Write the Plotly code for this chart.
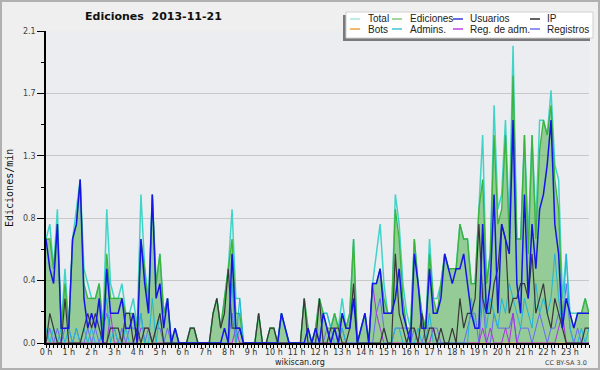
import plotly.graph_objects as go

# ---------------- data (edits per minute, 10-minute bins, 2013-11-21) ----------------
total = [
    0.7, 0.8, 0.5, 0.9, 0.1, 0.5,  0.1, 0.7, 0.9, 1.1, 0.5, 0.4,
    0.3, 0.3, 0.4, 0.1, 0.9, 0.4,  0.3, 0.3, 0.4, 0.2, 0.2, 0.3,
    0.1, 1.0, 0.5, 0.3, 1.0, 0.4,  0.6, 0.2, 0.3, 0.0, 0.1, 0.0,
    0.0, 0.0, 0.1, 0.1, 0.0, 0.0,  0.0, 0.0, 0.2, 0.3, 0.1, 0.3,
    0.5, 0.9, 0.3, 0.3, 0.0, 0.0,  0.0, 0.0, 0.2, 0.0, 0.0, 0.1,
    0.1, 0.0, 0.2, 0.1, 0.0, 0.0,  0.0, 0.0, 0.3, 0.1, 0.0, 0.1,
    0.3, 0.2, 0.2, 0.1, 0.2, 0.1,  0.3, 0.1, 0.2, 0.7, 0.0, 0.1,
    0.2, 0.0, 0.4, 0.6, 0.8, 0.4,  0.2, 0.2, 1.0, 0.8, 0.4, 0.2,
    0.1, 0.7, 0.4, 0.2, 0.1, 0.7,  0.3, 0.3, 0.4, 0.6, 0.5, 0.5,
    0.5, 0.8, 0.7, 0.7, 0.4, 0.4,  0.9, 1.4, 0.4, 0.6, 1.6, 0.9,
    1.0, 1.5, 0.8, 2.0, 0.7, 0.7,  1.4, 0.7, 1.4, 0.8, 1.5, 1.5,
    1.4, 1.7, 1.2, 1.1, 0.3, 0.6,  0.2, 0.2, 0.2, 0.2, 0.3, 0.2,
]
ediciones = [
    0.7, 0.7, 0.5, 0.8, 0.1, 0.4,  0.1, 0.7, 0.8, 1.1, 0.4, 0.3,
    0.3, 0.3, 0.4, 0.1, 0.6, 0.3,  0.3, 0.3, 0.3, 0.2, 0.2, 0.2,
    0.1, 0.7, 0.5, 0.2, 1.0, 0.4,  0.6, 0.2, 0.3, 0.0, 0.1, 0.0,
    0.0, 0.0, 0.1, 0.1, 0.0, 0.0,  0.0, 0.0, 0.2, 0.3, 0.1, 0.3,
    0.5, 0.7, 0.2, 0.2, 0.0, 0.0,  0.0, 0.0, 0.2, 0.0, 0.0, 0.1,
    0.1, 0.0, 0.2, 0.1, 0.0, 0.0,  0.0, 0.0, 0.3, 0.1, 0.0, 0.1,
    0.3, 0.2, 0.1, 0.1, 0.2, 0.1,  0.2, 0.1, 0.2, 0.7, 0.0, 0.1,
    0.2, 0.0, 0.4, 0.4, 0.5, 0.3,  0.2, 0.2, 0.9, 0.7, 0.3, 0.1,
    0.1, 0.7, 0.4, 0.2, 0.1, 0.6,  0.3, 0.2, 0.4, 0.6, 0.5, 0.5,
    0.5, 0.8, 0.7, 0.7, 0.4, 0.4,  0.9, 1.1, 0.4, 0.6, 1.4, 0.8,
    0.9, 1.4, 0.7, 1.8, 0.7, 0.7,  1.4, 0.6, 1.4, 0.7, 1.3, 1.5,
    1.4, 1.6, 1.1, 0.9, 0.2, 0.3,  0.2, 0.1, 0.2, 0.2, 0.3, 0.2,
]
usuarios = [
    0.7, 0.5, 0.4, 0.8, 0.1, 0.1,  0.1, 0.7, 0.8, 1.1, 0.3, 0.1,
    0.2, 0.1, 0.3, 0.0, 0.5, 0.2,  0.2, 0.2, 0.3, 0.1, 0.1, 0.2,
    0.0, 0.7, 0.4, 0.2, 1.0, 0.3,  0.4, 0.1, 0.3, 0.0, 0.1, 0.0,
    0.0, 0.0, 0.0, 0.0, 0.0, 0.0,  0.0, 0.0, 0.0, 0.0, 0.0, 0.1,
    0.0, 0.6, 0.1, 0.1, 0.0, 0.0,  0.0, 0.0, 0.0, 0.0, 0.0, 0.0,
    0.0, 0.0, 0.2, 0.1, 0.0, 0.0,  0.0, 0.0, 0.0, 0.1, 0.0, 0.1,
    0.0, 0.2, 0.1, 0.0, 0.1, 0.0,  0.2, 0.1, 0.1, 0.3, 0.0, 0.1,
    0.2, 0.0, 0.4, 0.4, 0.5, 0.2,  0.2, 0.2, 0.3, 0.5, 0.2, 0.1,
    0.0, 0.6, 0.4, 0.1, 0.1, 0.5,  0.2, 0.2, 0.3, 0.6, 0.5, 0.4,
    0.5, 0.5, 0.6, 0.4, 0.2, 0.1,  0.1, 0.8, 0.2, 0.4, 1.0, 0.2,
    0.8, 0.7, 0.6, 1.5, 0.4, 0.2,  1.0, 0.3, 0.8, 0.5, 0.9, 1.0,
    1.2, 1.5, 0.8, 0.6, 0.1, 0.3,  0.2, 0.1, 0.2, 0.2, 0.2, 0.2,
]
ip = [
    0.0, 0.2, 0.1, 0.0, 0.0, 0.3,  0.0, 0.0, 0.0, 0.0, 0.1, 0.2,
    0.1, 0.2, 0.1, 0.0, 0.0, 0.1,  0.1, 0.1, 0.0, 0.2, 0.2, 0.0,
    0.1, 0.0, 0.1, 0.1, 0.0, 0.1,  0.2, 0.0, 0.0, 0.0, 0.0, 0.0,
    0.0, 0.0, 0.1, 0.1, 0.0, 0.0,  0.0, 0.0, 0.2, 0.3, 0.1, 0.2,
    0.5, 0.1, 0.1, 0.1, 0.0, 0.0,  0.0, 0.0, 0.2, 0.0, 0.0, 0.1,
    0.1, 0.0, 0.0, 0.0, 0.0, 0.0,  0.0, 0.0, 0.3, 0.0, 0.0, 0.0,
    0.3, 0.0, 0.0, 0.1, 0.1, 0.1,  0.0, 0.0, 0.1, 0.4, 0.0, 0.0,
    0.0, 0.0, 0.0, 0.0, 0.0, 0.1,  0.0, 0.0, 0.6, 0.2, 0.1, 0.0,
    0.1, 0.1, 0.0, 0.2, 0.0, 0.1,  0.1, 0.0, 0.1, 0.0, 0.0, 0.1,
    0.0, 0.3, 0.1, 0.2, 0.2, 0.3,  0.8, 0.3, 0.2, 0.2, 0.4, 0.5,
    0.8, 0.7, 0.2, 0.3, 0.3, 0.4,  0.4, 0.3, 0.6, 0.2, 0.3, 0.4,
    0.2, 0.1, 0.3, 0.2, 0.1, 0.0,  0.0, 0.0, 0.0, 0.0, 0.1, 0.1,
]
bots = [0.0] * 144
admins = [
    0.1, 0.0, 0.1, 0.0, 0.1, 0.0,  0.1, 0.0, 0.1, 0.0, 0.1, 0.0,
    0.1, 0.0, 0.0, 0.1, 0.3, 0.0,  0.1, 0.0, 0.0, 0.1, 0.0, 0.0,
    0.0, 0.2, 0.0, 0.0, 0.3, 0.0,  0.2, 0.0, 0.0, 0.0, 0.0, 0.0,
    0.0, 0.0, 0.0, 0.0, 0.0, 0.0,  0.0, 0.0, 0.0, 0.0, 0.0, 0.0,
    0.0, 0.4, 0.0, 0.3, 0.0, 0.0,  0.0, 0.0, 0.0, 0.0, 0.0, 0.0,
    0.0, 0.0, 0.2, 0.1, 0.0, 0.0,  0.0, 0.0, 0.0, 0.0, 0.0, 0.0,
    0.0, 0.2, 0.2, 0.1, 0.0, 0.0,  0.1, 0.0, 0.0, 0.0, 0.0, 0.0,
    0.0, 0.0, 0.0, 0.0, 0.0, 0.0,  0.0, 0.0, 0.1, 0.1, 0.0, 0.0,
    0.0, 0.0, 0.1, 0.0, 0.0, 0.2,  0.0, 0.0, 0.0, 0.0, 0.0, 0.0,
    0.0, 0.0, 0.0, 0.0, 0.3, 0.1,  0.1, 0.4, 0.1, 0.3, 0.2, 0.1,
    0.3, 0.2, 0.4, 0.3, 0.2, 0.1,  0.3, 0.2, 0.1, 0.4, 0.2, 0.3,
    0.2, 0.3, 0.6, 0.3, 0.1, 0.6,  0.1, 0.0, 0.0, 0.1, 0.0, 0.1,
]
reg_adm = [
    0.0, 0.0, 0.0, 0.0, 0.0, 0.0,  0.0, 0.0, 0.0, 0.0, 0.0, 0.0,
    0.0, 0.0, 0.0, 0.0, 0.0, 0.2,  0.0, 0.0, 0.0, 0.0, 0.0, 0.0,
    0.0, 0.1, 0.1, 0.1, 0.0, 0.0,  0.0, 0.0, 0.0, 0.0, 0.0, 0.0,
    0.0, 0.0, 0.0, 0.0, 0.0, 0.0,  0.0, 0.0, 0.0, 0.0, 0.0, 0.0,
    0.0, 0.0, 0.1, 0.0, 0.0, 0.0,  0.0, 0.0, 0.0, 0.0, 0.0, 0.0,
    0.0, 0.0, 0.0, 0.0, 0.0, 0.0,  0.0, 0.0, 0.0, 0.0, 0.0, 0.0,
    0.0, 0.0, 0.0, 0.0, 0.0, 0.0,  0.0, 0.0, 0.0, 0.0, 0.0, 0.0,
    0.0, 0.0, 0.4, 0.2, 0.1, 0.0,  0.0, 0.0, 0.0, 0.0, 0.0, 0.0,
    0.0, 0.0, 0.0, 0.0, 0.0, 0.0,  0.1, 0.0, 0.0, 0.0, 0.0, 0.0,
    0.0, 0.0, 0.0, 0.0, 0.0, 0.0,  0.0, 0.1, 0.0, 0.1, 0.0, 0.0,
    0.0, 0.1, 0.0, 0.2, 0.0, 0.0,  0.0, 0.0, 0.0, 0.0, 0.0, 0.0,
    0.0, 0.0, 0.0, 0.1, 0.2, 0.0,  0.0, 0.0, 0.0, 0.0, 0.0, 0.0,
]
registros = [
    0.0, 0.1, 0.0, 0.1, 0.0, 0.1,  0.1, 0.0, 0.1, 0.0, 0.0, 0.1,
    0.0, 0.1, 0.0, 0.1, 0.2, 0.1,  0.1, 0.0, 0.1, 0.0, 0.1, 0.1,
    0.1, 0.2, 0.0, 0.1, 0.0, 0.1,  0.1, 0.0, 0.1, 0.0, 0.0, 0.0,
    0.0, 0.0, 0.0, 0.0, 0.0, 0.0,  0.0, 0.0, 0.0, 0.0, 0.0, 0.0,
    0.0, 0.2, 0.0, 0.1, 0.0, 0.0,  0.0, 0.0, 0.0, 0.0, 0.0, 0.0,
    0.0, 0.0, 0.0, 0.0, 0.0, 0.0,  0.0, 0.0, 0.0, 0.0, 0.0, 0.0,
    0.0, 0.0, 0.1, 0.0, 0.1, 0.0,  0.1, 0.0, 0.0, 0.0, 0.0, 0.0,
    0.0, 0.0, 0.0, 0.2, 0.3, 0.1,  0.0, 0.0, 0.1, 0.1, 0.1, 0.1,
    0.0, 0.1, 0.0, 0.0, 0.1, 0.1,  0.1, 0.1, 0.0, 0.0, 0.0, 0.0,
    0.0, 0.0, 0.0, 0.1, 0.2, 0.2,  0.0, 0.3, 0.0, 0.0, 0.2, 0.1,
    0.1, 0.1, 0.1, 0.2, 0.0, 0.1,  0.1, 0.1, 0.0, 0.1, 0.2, 0.1,
    0.0, 0.1, 0.1, 0.2, 0.1, 0.4,  0.1, 0.0, 0.1, 0.0, 0.0, 0.0,
]

hour_labels = [f"{h} h" for h in range(24)]
y_tick_vals = [0.0, 0.42, 0.84, 1.26, 1.68, 2.1]
y_tick_text = ["0.0", "0.4", "0.8", "1.3", "1.7", "2.1"]

legend_names = ["Total", "Ediciones", "Usuarios", "IP", "Bots", "Admins.", "Reg. de adm.", "Registros"]
legend_colors = ["#a6e6de", "#80c880", "#3a3ae0", "#303030", "#f0a040", "#40c4d8", "#c040e0", "#7070f0"]

# ---------------- figure ----------------
n = len(total)
x = [i / 6 for i in range(n)]  # hours

# plot area in pixels: x 46..589, y 31..343
L, R, T, B = 46, 589, 31, 343
W, H = R - L, B - T
def px(v):
    return (v - L) / W
def py(v):
    return (B - v) / H

fig = go.Figure()
fig.add_trace(go.Scatter(x=x, y=total, mode="lines", line=dict(color="#40d4c8", width=1.5), name="Total"))
fig.add_trace(go.Scatter(x=x, y=ediciones, mode="lines", fill="tozeroy",
                         fillcolor="rgba(60,170,60,0.5)", line=dict(color="#3cb43c", width=1.3), name="Ediciones"))
fig.add_trace(go.Scatter(x=x, y=bots, mode="lines", line=dict(color="#f0a040", width=1), name="Bots"))
fig.add_trace(go.Scatter(x=x, y=registros, mode="lines", line=dict(color="#6a6af5", width=1), name="Registros"))
fig.add_trace(go.Scatter(x=x, y=reg_adm, mode="lines", line=dict(color="#b030e0", width=1), name="Reg. de adm."))
fig.add_trace(go.Scatter(x=x, y=admins, mode="lines", line=dict(color="#20b4d8", width=1), name="Admins."))
fig.add_trace(go.Scatter(x=x, y=ip, mode="lines", line=dict(color="#383838", width=1.2), name="IP"))
fig.add_trace(go.Scatter(x=x, y=usuarios, mode="lines", line=dict(color="#1515e8", width=1.5), name="Usuarios"))

font_main = "DejaVu Sans"

fig.update_layout(
    width=600, height=370,
    margin=dict(l=L, r=600 - R, t=T, b=370 - B),
    paper_bgcolor="#efefef",
    plot_bgcolor="#ecedf0",
    showlegend=False,
    xaxis=dict(
        range=[0, (n - 1) / 6], tickvals=list(range(24)), ticktext=hour_labels,
        ticks="outside", ticklen=3, tickcolor="#000", tickwidth=1,
        minor=dict(dtick=1 / 6, ticks="outside", ticklen=3, tickcolor="#000", tickwidth=1),
        showline=True, linecolor="#000", linewidth=1.5, showgrid=False, zeroline=False,
        tickfont=dict(family=font_main, size=8, color="#333"),
        ticklabelstandoff=-2,
    ),
    yaxis=dict(
        range=[0, 2.1], tickvals=y_tick_vals, ticktext=y_tick_text,
        ticks="outside", ticklen=7, tickcolor="#000", tickwidth=1,
        minor=dict(tickvals=[0.21, 0.63, 1.05, 1.47, 1.89], ticks="outside", ticklen=3,
                   tickcolor="#000", showgrid=False),
        showline=True, linecolor="#000", linewidth=1.5, showgrid=True, gridcolor="#c8c8c8",
        gridwidth=1, zeroline=False,
        tickfont=dict(family=font_main, size=8, color="#444"),
    ),
)

shapes = []
annotations = []
# outer frame
shapes.append(dict(type="rect", xref="paper", yref="paper", x0=px(1), x1=px(599), y0=py(369), y1=py(1),
                   line=dict(color="#b0b0b0", width=2), fillcolor="rgba(0,0,0,0)", layer="below"))
# legend box with shadow
shapes.append(dict(type="rect", xref="paper", yref="paper", x0=px(343), x1=px(590), y0=py(41), y1=py(15),
                   line=dict(width=0), fillcolor="#7a7a7a"))
shapes.append(dict(type="rect", xref="paper", yref="paper", x0=px(346), x1=px(593), y0=py(38), y1=py(12),
                   line=dict(color="#d0d0d0", width=1), fillcolor="#ffffff"))
col_swatch = [350, 392, 453, 530]
col_text = [366, 408, 468, 545]
row_y = [19, 29]
for k, (name, col) in enumerate(zip(legend_names, legend_colors)):
    r, c = divmod(k, 4)
    yy = row_y[r]
    shapes.append(dict(type="line", xref="paper", yref="paper", x0=px(col_swatch[c]), x1=px(col_swatch[c] + 10),
                       y0=py(yy), y1=py(yy), line=dict(color=col, width=1.5)))
    annotations.append(dict(text=name, xref="paper", yref="paper", x=px(col_text[c]), y=py(yy),
                            xanchor="left", yanchor="middle", showarrow=False,
                            font=dict(family="Liberation Sans", size=10, color="#222")))

annotations.append(dict(text="<b>Ediciones\u00a0\u00a02013-11-21</b>", xref="paper", yref="paper",
                        x=px(153), y=py(17), xanchor="center", yanchor="middle", showarrow=False,
                        font=dict(family=font_main, size=11, color="#111")))
annotations.append(dict(text="Ediciones/min", xref="paper", yref="paper", x=px(9), y=py(188),
                        xanchor="center", yanchor="middle", showarrow=False, textangle=-90,
                        font=dict(family="DejaVu Sans Mono", size=10, color="#111")))
annotations.append(dict(text="wikiscan.org", xref="paper", yref="paper", x=px(300), y=py(362.5),
                        xanchor="center", yanchor="middle", showarrow=False,
                        font=dict(family=font_main, size=8, color="#222")))
annotations.append(dict(text="CC BY-SA 3.0", xref="paper", yref="paper", x=px(589), y=py(363),
                        xanchor="right", yanchor="middle", showarrow=False,
                        font=dict(family=font_main, size=6.5, color="#444")))

fig.update_layout(shapes=shapes, annotations=annotations)
fig.write_html("out.html", config={"displayModeBar": False},
               post_script="document.body.style.margin='0px';document.body.style.overflow='hidden';")
